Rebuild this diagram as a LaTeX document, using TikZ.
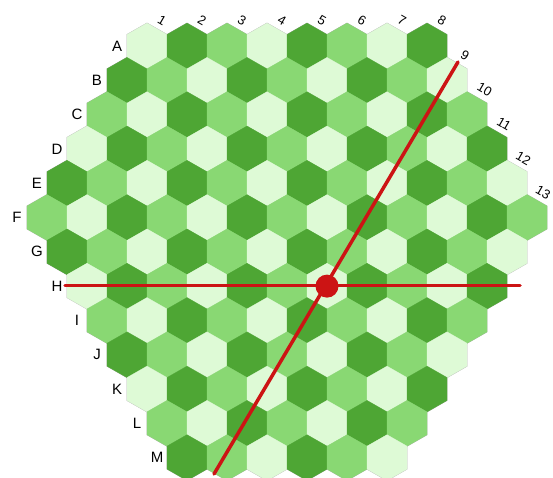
\documentclass[tikz,border=0pt]{standalone}
\usepackage{fontspec}
\setmainfont{Liberation Sans}
\usetikzlibrary{positioning}
\definecolor{hexdark}{RGB}{78,166,52}
\definecolor{hexmid}{RGB}{137,216,115}
\definecolor{hexlight}{RGB}{222,250,214}
\definecolor{rayred}{RGB}{204,20,20}
\tikzset{
  cell/.pic={\path[pic actions] (0,-22.87) -- ++(20,11.43) -- ++(0,22.87) -- ++(-20,11.43)
      -- ++(-20,-11.43) -- ++(0,-22.87) -- cycle;},
  rowlabel/.style={font=\fontsize{15}{15}\selectfont, inner sep=0pt},
  collabel/.style={font=\fontsize{13}{13}\selectfont, inner sep=0pt, rotate=-30},
  ray/.style={draw=rayred, line width=3.5pt, line cap=round},
}
\newcommand\boardrows{0/127/8/A, 1/107/9/B, 2/87/10/C, 3/67/11/D, 4/47/12/E,
    5/27/13/F, 6/47/12/G, 7/67/11/H, 8/87/10/I, 9/107/9/J, 10/127/8/K, 11/147/7/L, 12/167/6/M}
\begin{document}
\begin{tikzpicture}[x=1pt,y=-1pt]
\path[use as bounding box] (0,0) rectangle (553,477);
% faint outline first, cells on top
\foreach \r/\lft/\n/\lab in \boardrows
  \foreach \i in {1,...,\n}
    \pic[draw=black!30, line width=0.9pt] at (\lft-20+40*\i,46+34.3*\r) {cell};
% cells: row index / left edge / number of cells / letter
\foreach \r/\lft/\n/\lab in \boardrows {
  \pgfmathsetmacro\cy{46+34.3*\r}
  \foreach \i in {1,...,\n} {
    \pgfmathsetmacro\cx{\lft-20+40*\i}
    \pgfmathtruncatemacro\c{mod(round((\cx-147)/20)+300,3)}
    \ifcase\c \def\cellcol{hexlight}\or \def\cellcol{hexmid}\else \def\cellcol{hexdark}\fi
    \pic[fill=\cellcol, draw=\cellcol, line width=0.3pt] at (\cx,\cy) {cell};
  }
  \node[rowlabel] (row\lab) at (\lft-10,\cy) {\lab};
}
% column numbers
\foreach \j in {1,...,8}
  \node[collabel] (col\j) at (162+40*\j-40,20) {\j};
\foreach \k/\j in {1/9, 2/10, 3/11, 4/12, 5/13}
  \node[collabel] (col\j) at (445.5+19.5*\k,80.3+34.3*\k-34.3-25) {\j};
% lines through the centre cell
\coordinate (hub) at (327,286.1);
\coordinate (west) at (65,285.5);
\coordinate (east) at (520,285.5);
\coordinate (north) at (458,62);
\coordinate (south) at (214,474);
\draw[ray] (west) -- (east);
\draw[ray] (north) -- (south);
\fill[rayred] (hub) circle (11.5);
\end{tikzpicture}
\end{document}
